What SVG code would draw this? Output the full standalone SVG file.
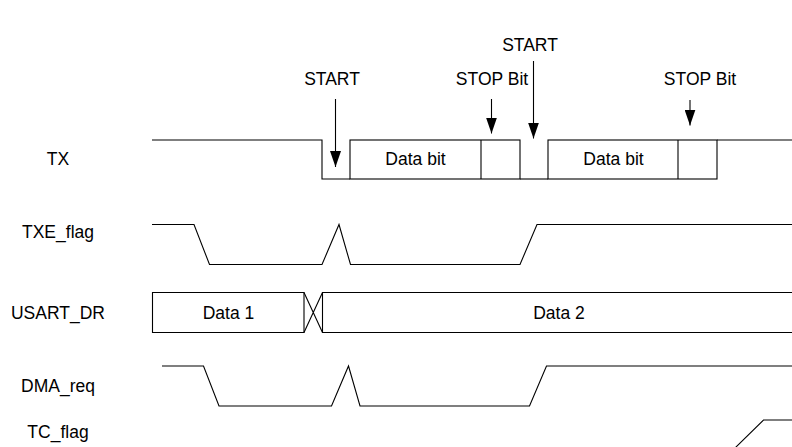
<svg xmlns="http://www.w3.org/2000/svg" width="792" height="447" viewBox="0 0 792 447">
<style>
text{font-family:"Liberation Sans",Arial,sans-serif;font-size:17.5px;fill:#000;text-anchor:middle}
.w{fill:none;stroke:#000;stroke-width:1.1}
.a{stroke:#000;stroke-width:1.1;fill:none}
</style>
<defs>
<marker id="ah" markerUnits="userSpaceOnUse" markerWidth="16" markerHeight="11" refX="16" refY="5.5" orient="auto">
<path d="M0,0 L16,5.5 L0,11 z" fill="#000"/>
</marker>
</defs>
<rect width="792" height="447" fill="#fff"/>
<g id="tx">
<text x="58" y="165">TX</text>
<path class="w" d="M152,140 H322 V179 H350"/>
<rect class="w" x="350" y="140" width="170" height="39"/>
<line class="w" x1="481" y1="140" x2="481" y2="179"/>
<path class="w" d="M520,179 H548"/>
<rect class="w" x="548" y="140" width="169" height="39"/>
<line class="w" x1="678" y1="140" x2="678" y2="179"/>
<path class="w" d="M717,140 H792"/>
<text x="415.5" y="165">Data bit</text>
<text x="613.5" y="165">Data bit</text>
</g>
<g id="txe_flag">
<text x="58" y="238">TXE_flag</text>
<path class="w" d="M152,224.5 H194 L209.5,264.5 H322 L339,224.5 L350.5,264.5 H520 L537,224.5 H792"/>
</g>
<g id="usart_dr">
<text x="58" y="319">USART_DR</text>
<path class="w" d="M304,292.5 H152.5 V332.5 H304 Z"/>
<path class="w" d="M304,292.5 L322.5,332.5 M304,332.5 L322.5,292.5"/>
<path class="w" d="M792,292.5 H322.5 V332.5 H792"/>
<text x="228.5" y="319">Data 1</text>
<text x="559" y="319">Data 2</text>
</g>
<g id="dma_req">
<text x="58" y="391.5">DMA_req</text>
<path class="w" d="M162,366 H203.5 L219,406 H331.5 L348.5,366 L360,406 H529.5 L546.5,366 H792"/>
</g>
<g id="tc_flag">
<text x="58" y="437.5">TC_flag</text>
<path class="w" d="M735,448 L763.5,420 H792"/>
</g>
<g id="labels">
<text x="332" y="85">START</text>
<text x="530" y="51">START</text>
<text x="492" y="85">STOP Bit</text>
<text x="700" y="85">STOP Bit</text>
</g>
<g id="connectors">
<line class="a" x1="335.5" y1="99" x2="335.5" y2="167" marker-end="url(#ah)"/>
<line class="a" x1="533.5" y1="61" x2="533.5" y2="138.5" marker-end="url(#ah)"/>
<line class="a" x1="491.5" y1="99" x2="491.5" y2="133.5" marker-end="url(#ah)"/>
<line class="a" x1="690" y1="100" x2="690" y2="125.5" marker-end="url(#ah)"/>
</g>
</svg>
